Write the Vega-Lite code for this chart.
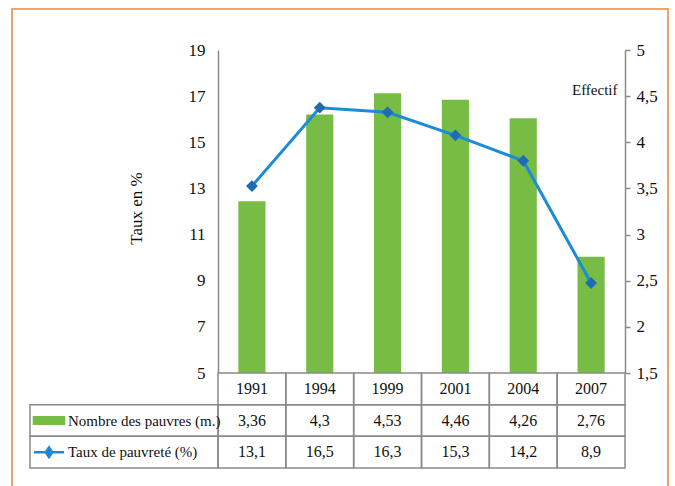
{
  "$schema": "https://vega.github.io/schema/vega-lite/v6.json",
  "width": 656,
  "height": 478,
  "autosize": {"type": "none"},
  "padding": {"left": 12, "top": 9, "right": 7, "bottom": 0},
  "background": "white",
  "config": {
    "view": {"stroke": "#E8A56E", "strokeWidth": 2},
    "font": "'Liberation Serif', 'DejaVu Serif', serif",
    "locale": {"number": {"decimal": ",", "thousands": " ", "grouping": [3], "currency": ["", " €"]}},
    "axis": {"labelFont": "'Liberation Serif', 'DejaVu Serif', serif", "titleFont": "'Liberation Serif', 'DejaVu Serif', serif", "labelColor": "#111111", "titleColor": "#111111", "grid": false},
    "text": {"font": "'Liberation Serif', 'DejaVu Serif', serif", "color": "#111111"}
  },
  "data": {"values": [
    {"annee": "1991", "nombre": 3.36, "taux": 13.1},
    {"annee": "1994", "nombre": 4.3, "taux": 16.5},
    {"annee": "1999", "nombre": 4.53, "taux": 16.3},
    {"annee": "2001", "nombre": 4.46, "taux": 15.3},
    {"annee": "2004", "nombre": 4.26, "taux": 14.2},
    {"annee": "2007", "nombre": 2.76, "taux": 8.9}
  ]},
  "resolve": {"scale": {"x": "independent", "y": "independent", "shape": "independent", "fill": "independent", "stroke": "independent"}, "axis": {"x": "independent", "y": "independent"}},
  "layer": [
    {
      "mark": {"type": "bar", "color": "#77BD45", "width": {"band": 0.4}},
      "encoding": {
        "x": {"field": "annee", "type": "nominal", "sort": null, "axis": null,
              "scale": {"type": "band", "domain": ["1991", "1994", "1999", "2001", "2004", "2007"], "range": [206, 613], "paddingInner": 0, "paddingOuter": 0}},
        "y": {"field": "nombre", "type": "quantitative",
              "scale": {"domain": [1.5, 5], "range": [364, 41], "nice": false, "zero": false},
              "axis": {"orient": "right", "offset": -43, "values": [1.5, 2, 2.5, 3, 3.5, 4, 4.5, 5], "format": "~f",
                       "domainColor": "#8a8a8a", "domainWidth": 1.5, "tickColor": "#8a8a8a", "tickWidth": 1.5, "tickSize": 5,
                       "labelPadding": 6, "labelFontSize": 17,
                       "title": "Effectif", "titleAngle": 0, "titleAlign": "right", "titleBaseline": "middle", "titleX": -8, "titleY": 80,
                       "titleFontSize": 15, "titleFontWeight": "normal"}},
        "y2": {"datum": 1.5}
      }
    },
    {
      "mark": {"type": "line", "color": "#1A8CD8", "strokeWidth": 3,
               "point": {"shape": "diamond", "filled": true, "size": 140, "color": "#1E6DB4"}},
      "encoding": {
        "x": {"field": "annee", "type": "nominal", "sort": null, "axis": null,
              "scale": {"type": "point", "domain": ["1991", "1994", "1999", "2001", "2004", "2007"], "range": [206, 613], "padding": 0.5}},
        "y": {"field": "taux", "type": "quantitative",
              "scale": {"domain": [5, 19], "range": [364, 41], "nice": false, "zero": false},
              "axis": {"orient": "left", "offset": -206, "values": [5, 7, 9, 11, 13, 15, 17, 19],
                       "ticks": false, "tickSize": 0, "labelPadding": 13, "labelFontSize": 17,
                       "domainColor": "#8a8a8a", "domainWidth": 1.5,
                       "title": "Taux en %", "titleAngle": -90, "titleAlign": "center", "titleBaseline": "middle",
                       "titleX": -82, "titleY": 199, "titleFontSize": 17, "titleFontWeight": "normal"}}
      }
    },
    {
      "mark": {"type": "rect", "filled": false, "color": "#8a8a8a", "strokeWidth": 1.5},
      "encoding": {
        "x": {"field": "annee", "type": "nominal", "sort": null, "axis": null,
              "scale": {"type": "band", "domain": ["1991", "1994", "1999", "2001", "2004", "2007"], "range": [206, 613], "paddingInner": 0, "paddingOuter": 0}},
        "y": {"datum": "annee", "type": "nominal", "axis": null,
              "scale": {"type": "band", "domain": ["annee", "nombre", "taux"], "range": [364, 459], "paddingInner": 0, "paddingOuter": 0}}
      }
    },
    {
      "mark": {"type": "text", "fontSize": 16, "baseline": "middle", "align": "center"},
      "encoding": {
        "x": {"field": "annee", "type": "nominal", "sort": null, "axis": null, "bandPosition": 0.5,
              "scale": {"type": "band", "domain": ["1991", "1994", "1999", "2001", "2004", "2007"], "range": [206, 613], "paddingInner": 0, "paddingOuter": 0}},
        "y": {"datum": "annee", "type": "nominal", "axis": null, "bandPosition": 0.5,
              "scale": {"type": "band", "domain": ["annee", "nombre", "taux"], "range": [364, 459], "paddingInner": 0, "paddingOuter": 0}},
        "text": {"field": "annee", "type": "nominal"}
      }
    },
    {
      "transform": [{"fold": ["nombre", "taux"], "as": ["serie", "valeur"]}],
      "mark": {"type": "rect", "filled": false, "color": "#8a8a8a", "strokeWidth": 1.5},
      "encoding": {
        "x": {"field": "annee", "type": "nominal", "sort": null, "axis": null,
              "scale": {"type": "band", "domain": ["1991", "1994", "1999", "2001", "2004", "2007"], "range": [206, 613], "paddingInner": 0, "paddingOuter": 0}},
        "y": {"field": "serie", "type": "nominal", "axis": null,
              "scale": {"type": "band", "domain": ["annee", "nombre", "taux"], "range": [364, 459], "paddingInner": 0, "paddingOuter": 0}}
      }
    },
    {
      "transform": [{"fold": ["nombre", "taux"], "as": ["serie", "valeur"]}],
      "mark": {"type": "text", "fontSize": 16, "baseline": "middle", "align": "center"},
      "encoding": {
        "x": {"field": "annee", "type": "nominal", "sort": null, "axis": null, "bandPosition": 0.5,
              "scale": {"type": "band", "domain": ["1991", "1994", "1999", "2001", "2004", "2007"], "range": [206, 613], "paddingInner": 0, "paddingOuter": 0}},
        "y": {"field": "serie", "type": "nominal", "axis": null, "bandPosition": 0.5,
              "scale": {"type": "band", "domain": ["annee", "nombre", "taux"], "range": [364, 459], "paddingInner": 0, "paddingOuter": 0}},
        "text": {"field": "valeur", "type": "quantitative", "format": "~g"}
      }
    },
    {
      "data": {"values": [
        {"serie": "nombre", "libelle": "Nombre des pauvres (m.)"},
        {"serie": "taux", "libelle": "Taux de pauvreté (%)"}
      ]},
      "mark": {"type": "rect", "filled": false, "color": "#8a8a8a", "strokeWidth": 1.5},
      "encoding": {
        "x": {"datum": "libelle", "type": "nominal", "axis": null,
              "scale": {"type": "band", "domain": ["libelle"], "range": [18, 206], "paddingInner": 0, "paddingOuter": 0}},
        "y": {"field": "serie", "type": "nominal", "axis": null,
              "scale": {"type": "band", "domain": ["annee", "nombre", "taux"], "range": [364, 459], "paddingInner": 0, "paddingOuter": 0}}
      }
    },
    {
      "data": {"values": [
        {"serie": "nombre", "libelle": "Nombre des pauvres (m.)"},
        {"serie": "taux", "libelle": "Taux de pauvreté (%)"}
      ]},
      "mark": {"type": "text", "fontSize": 15, "baseline": "middle", "align": "left", "dx": 38},
      "encoding": {
        "x": {"datum": "libelle", "type": "nominal", "axis": null, "bandPosition": 0,
              "scale": {"type": "band", "domain": ["libelle"], "range": [18, 206], "paddingInner": 0, "paddingOuter": 0}},
        "y": {"field": "serie", "type": "nominal", "axis": null, "bandPosition": 0.5,
              "scale": {"type": "band", "domain": ["annee", "nombre", "taux"], "range": [364, 459], "paddingInner": 0, "paddingOuter": 0}},
        "text": {"field": "libelle", "type": "nominal"}
      }
    },
    {
      "data": {"values": [
        {"serie": "nombre", "libelle": "Nombre des pauvres (m.)"},
        {"serie": "taux", "libelle": "Taux de pauvreté (%)"}
      ]},
      "mark": {"type": "point", "filled": true, "size": 900, "strokeWidth": 2.5, "opacity": 1, "xOffset": 19},
      "encoding": {
        "x": {"datum": "libelle", "type": "nominal", "axis": null, "bandPosition": 0,
              "scale": {"type": "band", "domain": ["libelle"], "range": [18, 206], "paddingInner": 0, "paddingOuter": 0}},
        "y": {"field": "serie", "type": "nominal", "axis": null, "bandPosition": 0.5,
              "scale": {"type": "band", "domain": ["annee", "nombre", "taux"], "range": [364, 459], "paddingInner": 0, "paddingOuter": 0}},
        "shape": {"field": "serie", "type": "nominal", "legend": null,
                  "scale": {"domain": ["nombre", "taux"], "range": ["M-1,-0.22H1V0.22H-1Z", "M-1,0H1M0,-0.32L0.22,0L0,0.32L-0.22,0Z"]}},
        "fill": {"field": "serie", "type": "nominal", "legend": null,
                 "scale": {"domain": ["nombre", "taux"], "range": ["#77BD45", "#1E6DB4"]}},
        "stroke": {"field": "serie", "type": "nominal", "legend": null,
                   "scale": {"domain": ["nombre", "taux"], "range": ["#77BD45", "#1A8CD8"]}}
      }
    }
  ]
}
